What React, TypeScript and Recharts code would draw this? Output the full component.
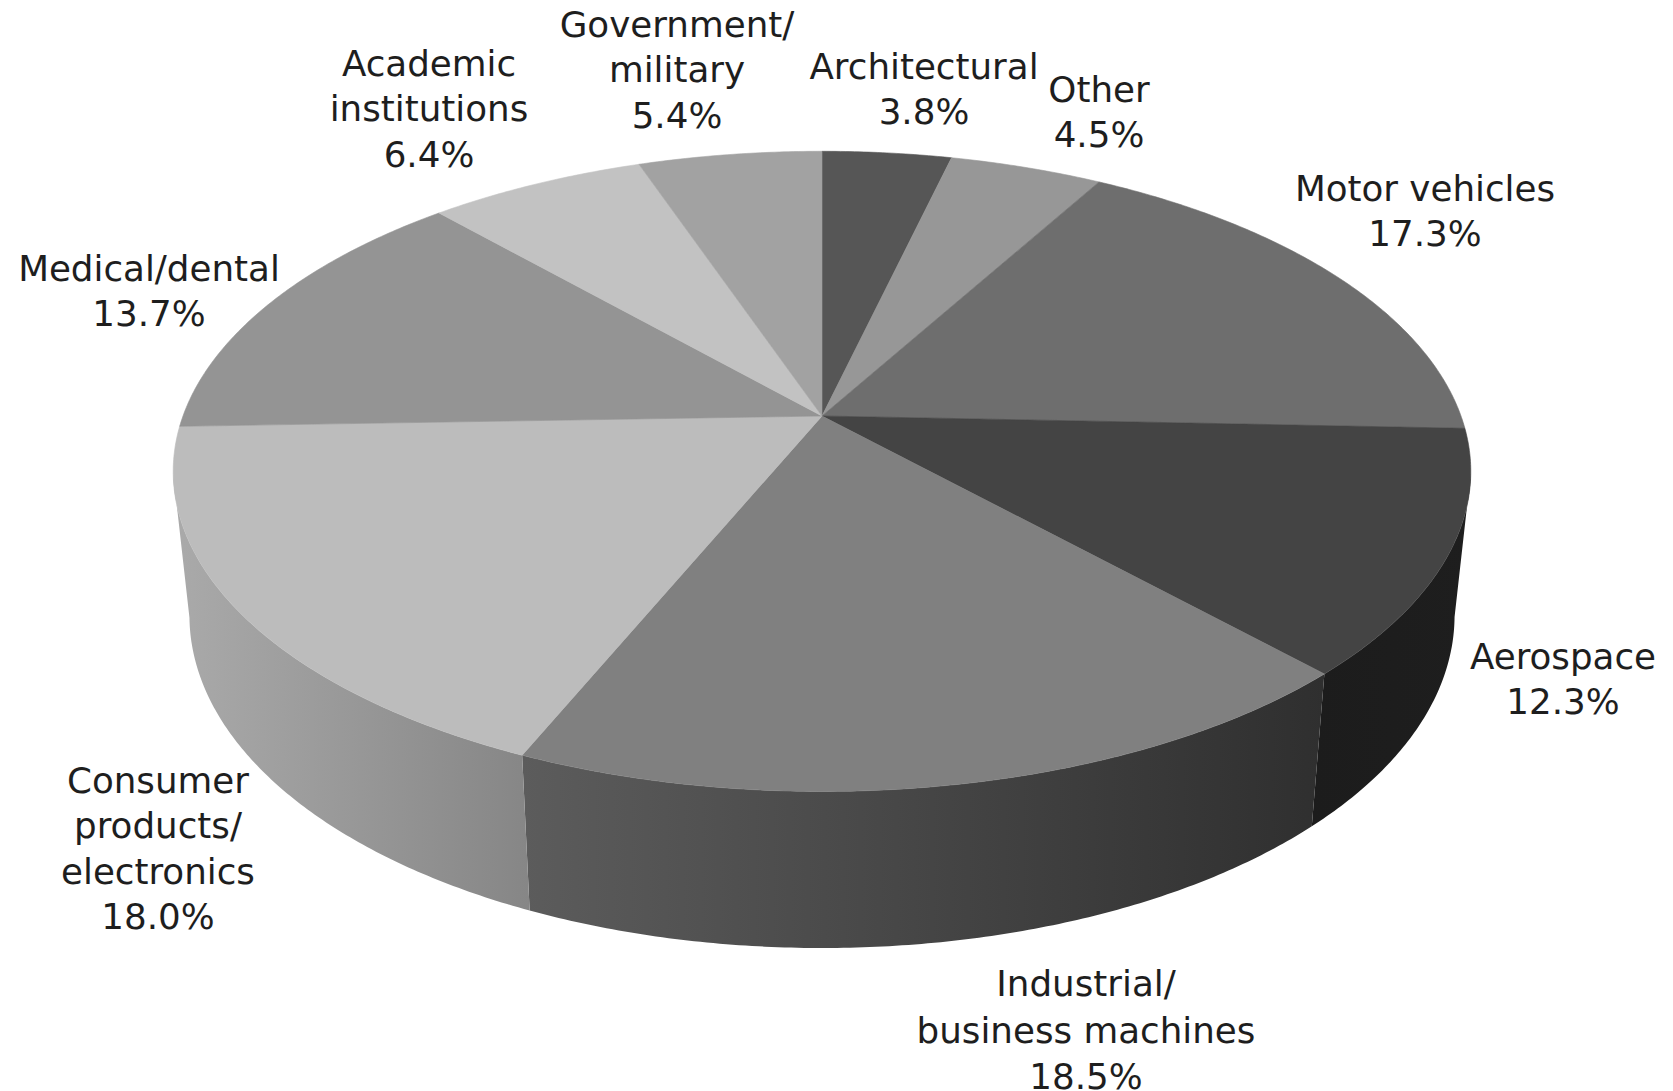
import { Pie, PieChart } from 'recharts';

const WIDTH = 1673;
const HEIGHT = 1091;

// Slices clockwise from twelve o'clock
const categories = [
  'Architectural',
  'Other',
  'Motor vehicles',
  'Aerospace',
  'Industrial/ business machines',
  'Consumer products/ electronics',
  'Medical/dental',
  'Academic institutions',
  'Government/ military',
];
const shares = [3.8, 4.5, 17.3, 12.3, 18.5, 18.0, 13.7, 6.4, 5.4];
const labelLines = [
  ['Architectural'],
  ['Other'],
  ['Motor vehicles'],
  ['Aerospace'],
  ['Industrial/', 'business machines'],
  ['Consumer', 'products/', 'electronics'],
  ['Medical/dental'],
  ['Academic', 'institutions'],
  ['Government/', 'military'],
];

const faceColors = ['#565656', '#979797', '#6e6e6e', '#444444', '#808080', '#bcbcbc', '#949494', '#c2c2c2', '#a2a2a2'];
const wallColors = ['#333', '#555', '#444', 'url(#wallAerospace)', 'url(#wallIndustrial)', 'url(#wallConsumer)', '#666', '#777', '#666'];

// Centre x and first-line centre y of each label block
const labelSpots = [
  [924, 66],
  [1099, 89],
  [1425, 188],
  [1563, 656],
  [1086, 983],
  [158, 780],
  [149, 268],
  [429, 63],
  [677, 24],
];
const labelLeading = [45.4, 45.4, 45.4, 45.4, 46.8, 45.4, 45.4, 45.4, 45.4];

const CX = 822;
const CY = 416;
const RX = 639;
const RY = 310.5;
const TILT = 0.173; // perspective strength of the disc
const WALL_DROP = 152;
const WALL_DROP_SWELL = 0.1; // the rim looks taller toward the viewer
const WALL_SHRINK = 0.975;

const RAD = Math.PI / 180;

const faceData = categories.map((name, i) => ({ name, share: shares[i], fill: faceColors[i] }));
const wallData = categories.map((name, i) => ({ name, share: shares[i], fill: wallColors[i] }));

// Recharts polar angle -> point on the tilted disc
function project(angle: number): [number, number] {
  const u = Math.cos(angle * RAD);
  const v = -Math.sin(angle * RAD);
  const s = 1 / (1 - TILT * v);
  return [CX + RX * u * s, CY + RY * v * s];
}

function sampleAngles(start: number, end: number) {
  const steps = Math.max(2, Math.ceil(Math.abs(end - start) * 2));
  const out: number[] = [];
  for (let i = 0; i <= steps; i++) out.push(start + ((end - start) * i) / steps);
  return out;
}

function TopFace(props: any) {
  const pts = sampleAngles(props.startAngle, props.endAngle).map(project);
  const d = `M${CX},${CY} ` + pts.map((p) => `L${p[0].toFixed(2)},${p[1].toFixed(2)}`).join(' ') + ' Z';
  return <path d={d} fill={props.fill} stroke={props.fill} strokeWidth={0.6} />;
}

// Side wall, only for the part of the rim that faces the viewer
function SideWall(props: any) {
  const front = sampleAngles(props.startAngle, props.endAngle).filter((a) => -Math.sin(a * RAD) >= TILT);
  if (front.length < 2) return null;
  const top = front.map(project);
  const bottom = front
    .map((a, i): [number, number] => {
      const [x, y] = top[i];
      const v = -Math.sin(a * RAD);
      return [CX + (x - CX) * WALL_SHRINK, y + WALL_DROP * (1 + WALL_DROP_SWELL * (v - 0.7))];
    })
    .reverse();
  const d = [...top, ...bottom].map((p, i) => `${i ? 'L' : 'M'}${p[0].toFixed(2)},${p[1].toFixed(2)}`).join(' ') + ' Z';
  return <path d={d} fill={props.fill} stroke="none" />;
}

function SliceLabel(props: any) {
  const { index, value } = props;
  const [x, y] = labelSpots[index];
  const lines = [...labelLines[index], `${Number(value).toFixed(1)}%`];
  return (
    <text x={x} textAnchor="middle" fontFamily="DejaVu Sans" fontSize={35.7} fill="#1e1e1e">
      {lines.map((line, i) => (
        <tspan key={line} x={x} y={y + i * labelLeading[index] + 12.8}>
          {line}
        </tspan>
      ))}
    </text>
  );
}

export default function App() {
  return (
    <div style={{ position: 'absolute', left: 0, top: 0, width: WIDTH, height: HEIGHT, background: '#fff' }}>
      <PieChart width={WIDTH} height={HEIGHT} margin={{ top: 0, right: 0, bottom: 0, left: 0 }}>
        <defs>
          <linearGradient id="wallConsumer" x1="0" y1="0" x2="1" y2="0">
            <stop offset="0%" stopColor="#aaaaaa" />
            <stop offset="100%" stopColor="#868686" />
          </linearGradient>
          <linearGradient id="wallIndustrial" x1="0" y1="0" x2="1" y2="0">
            <stop offset="0%" stopColor="#5c5c5c" />
            <stop offset="100%" stopColor="#2f2f2f" />
          </linearGradient>
          <linearGradient id="wallAerospace" x1="0" y1="0" x2="1" y2="0">
            <stop offset="0%" stopColor="#1c1c1c" />
            <stop offset="100%" stopColor="#1e1e1e" />
          </linearGradient>
        </defs>
        <Pie
          data={wallData}
          dataKey="share"
          nameKey="name"
          cx={CX}
          cy={CY}
          outerRadius={RX}
          startAngle={90}
          endAngle={-270}
          stroke="none"
          shape={SideWall}
          isAnimationActive={false}
        />
        <Pie
          data={faceData}
          dataKey="share"
          nameKey="name"
          cx={CX}
          cy={CY}
          outerRadius={RX}
          startAngle={90}
          endAngle={-270}
          stroke="none"
          shape={TopFace}
          label={SliceLabel}
          labelLine={false}
          isAnimationActive={false}
        />
      </PieChart>
    </div>
  );
}
